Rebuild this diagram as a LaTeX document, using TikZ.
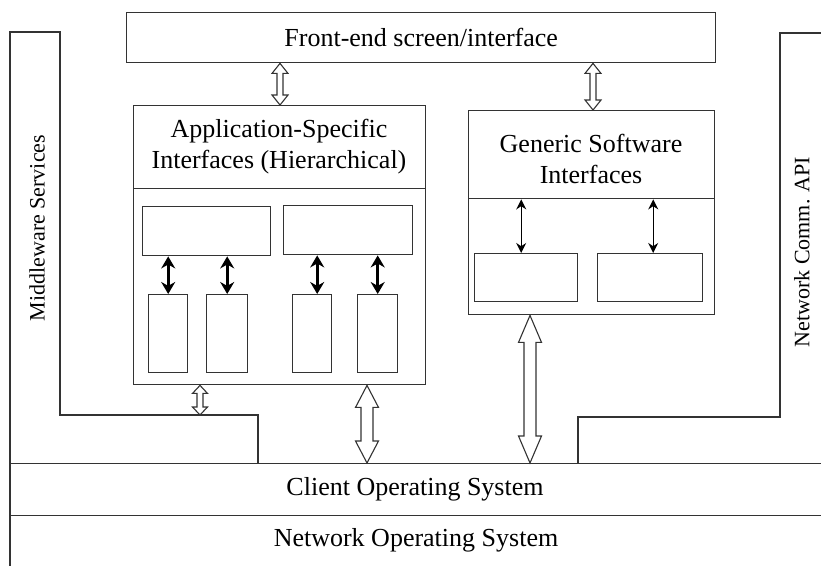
\documentclass[tikz,border=0pt]{standalone}
\usepackage{fontspec}
\setmainfont{Liberation Serif}
\usetikzlibrary{arrows.meta,calc}

% hollow double arrow between two points on one vertical
\newcommand{\hollowarr}[5]{%
  \draw[hollow] let \p1=#1, \p2=#2 in
    (\p1) -- (\x1+#4,\y1-#5) -- (\x1+#3,\y1-#5) -- (\x1+#3,\y2+#5)
    -- (\x1+#4,\y2+#5) -- (\p2) -- (\x1-#4,\y2+#5) -- (\x1-#3,\y2+#5)
    -- (\x1-#3,\y1-#5) -- (\x1-#4,\y1-#5) -- cycle;}

\begin{document}
\begin{tikzpicture}[x=1pt,y=-1pt,
  box/.style={draw=black!80, line width=1.4pt, anchor=north west, inner sep=0pt,
    align=center, font=\fontsize{26}{31}\selectfont},
  txt/.style={inner sep=0pt, align=center, font=\fontsize{26}{31}\selectfont},
  sidetxt/.style={inner sep=0pt, rotate=90, font=\fontsize{22}{26}\selectfont},
  wall/.style={draw=black!80, line width=1.4pt},
  hollow/.style={draw=black!80, line width=1.1pt, fill=white, line join=miter},
  fatarr/.style={line width=3pt, {Stealth[length=12pt,width=14pt]}-{Stealth[length=12pt,width=14pt]}},
  thinarr/.style={line width=1.4pt, {Stealth[length=10pt,width=10pt]}-{Stealth[length=10pt,width=10pt]}}]
 	\useasboundingbox (0,0) rectangle (821,565);
 	\clip (0,0) rectangle (821,565);
 	% side walls
 	\draw [wall] (10,575) -- (10,32) -- (60,32) -- (60,415) -- (258,415) -- (258,463);
 	\coordinate (ledge) at (258,415);
 	\draw [wall] (830,33) -- (780,33) -- (780,417) -- (578,417) -- (578,463);
 	\node [sidetxt] (mw) at (37,228) {Middleware Services};
 	\node [sidetxt] (nc) at (802,252) {Network Comm. API};
 	% top layer
 	\node [box, minimum width=589, minimum height=50] (fe) at (126,12) {Front-end screen/interface};
 	% application specific block
 	\node [box, minimum width=292, minimum height=279] (app) at (133,105) {};
 	\node [box, minimum width=292, minimum height=83] (apphead) at (133,105) {};
 	\node [txt] (apptxt) at (279,147) {Application-Specific\\Interfaces (Hierarchical)};
 	\node [box, minimum width=128, minimum height=49] (a1) at (142,206) {};
 	\node [box, minimum width=129, minimum height=49] (a2) at (283,205) {};
 	\node [box, minimum width=39, minimum height=78] (t1) at (148,294) {};
 	\node [box, minimum width=41, minimum height=78] (t2) at (206,294) {};
 	\node [box, minimum width=39, minimum height=78] (t3) at (292,294) {};
 	\node [box, minimum width=40, minimum height=78] (t4) at (357,294) {};
 	\draw [fatarr] (t1.north |- a1.south) -- (t1.north);
 	\draw [fatarr] (t2.north |- a1.south) -- (t2.north);
 	\draw [fatarr] ([xshift=5pt]t3.north |- a2.south) -- ([xshift=5pt]t3.north);
 	\draw [fatarr] (t4.north |- a2.south) -- (t4.north);
 	% generic block
 	\node [box, minimum width=246, minimum height=204] (gen) at (468,110) {};
 	\node [box, minimum width=246, minimum height=88] (genhead) at (468,110) {};
 	\node [txt] (gentxt) at (591,159) {Generic Software\\Interfaces};
 	\node [box, minimum width=103, minimum height=48] (g1) at (474,253) {};
 	\node [box, minimum width=105, minimum height=48] (g2) at (597,253) {};
 	\draw [thinarr] ([xshift=-5pt]g1.north |- genhead.south) -- ([xshift=-5pt]g1.north);
 	\draw [thinarr] ([xshift=3pt]g2.north |- genhead.south) -- ([xshift=3pt]g2.north);
 	% operating system layers
 	\node [box, minimum width=830, minimum height=52] (cos) at (10,463) {};
 	\node [txt] (costxt) at (415,489) {Client Operating System};
 	\node [txt] (nostxt) at (416,540) {Network Operating System};
 	% hollow arrows
 	\hollowarr{(280,0 |- fe.south)}{(280,0 |- apphead.north)}{3pt}{8pt}{10pt}
 	\hollowarr{(593,0 |- fe.south)}{(593,0 |- genhead.north)}{3pt}{8pt}{10pt}
 	\hollowarr{(200,0 |- app.south)}{(200,0 |- ledge)}{3pt}{7.5pt}{8pt}
 	\hollowarr{(367,0 |- app.south)}{(367,0 |- cos.north)}{6pt}{11.5pt}{22pt}
 	\hollowarr{(530,0 |- gen.south)}{(530,0 |- cos.north)}{6pt}{11.5pt}{27pt}
\end{tikzpicture}
\end{document}
